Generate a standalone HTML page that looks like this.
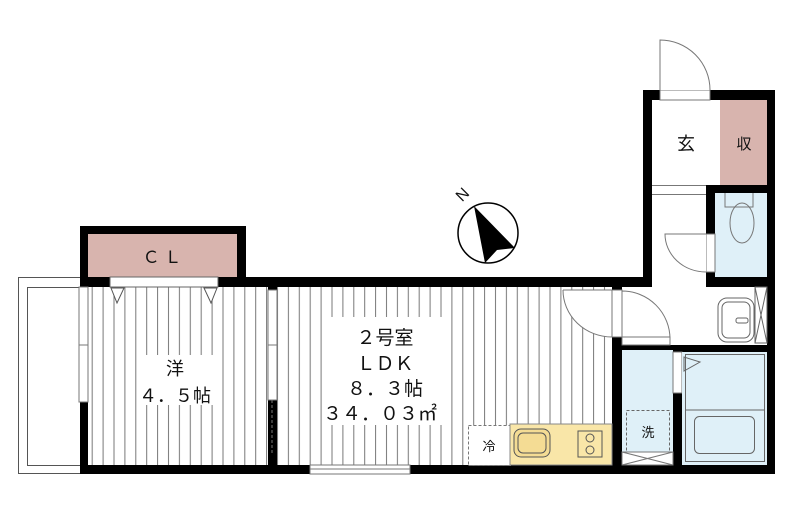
<!DOCTYPE html>
<html><head><meta charset="utf-8"><style>
html,body{margin:0;padding:0;background:#fff;}
svg{display:block;}
text{font-family:"Liberation Sans","Noto Sans CJK JP",sans-serif;fill:#111;}
</style></head><body>
<svg width="791" height="524" viewBox="0 0 791 524" xmlns="http://www.w3.org/2000/svg">
<defs>
<pattern id="st" width="10.9" height="10" patternUnits="userSpaceOnUse">
<line x1="5" y1="0" x2="5" y2="10" stroke="#777" stroke-width="1"/>
</pattern>
</defs>
<!-- balcony -->
<rect x="18.5" y="277.5" width="62" height="196" fill="#fff" stroke="#555"/>
<rect x="27.5" y="287.5" width="53" height="178" fill="#fff" stroke="#555"/>
<!-- walls base -->
<rect x="80" y="226" width="166" height="61" fill="#000"/>
<rect x="80" y="277" width="575" height="197" fill="#000"/>
<rect x="643" y="90" width="132" height="384" fill="#000"/>
<!-- CL -->
<rect x="88" y="234" width="149" height="43" fill="#d8b4ae"/>
<text x="162" y="263" font-size="17" text-anchor="middle">Ｃ Ｌ</text>
<!-- western room -->
<rect x="88" y="287" width="180" height="178" fill="#fff"/>
<rect x="88" y="287" width="180" height="178" fill="url(#st)"/>
<rect x="110" y="277" width="108" height="10" fill="#fff" stroke="#666"/>
<polygon points="111,288 124,288 117,303" fill="#fff" stroke="#555"/>
<polygon points="204,288 217,288 211,303" fill="#fff" stroke="#555"/>
<rect x="138" y="355" width="76" height="50" fill="#fff"/>
<text x="175" y="375" font-size="18" text-anchor="middle">洋</text>
<text x="175" y="402" font-size="18" text-anchor="middle">４．５帖</text>
<rect x="79" y="287" width="9" height="115" fill="#fff" stroke="#777"/>
<line x1="79" y1="345" x2="88" y2="345" stroke="#777"/>
<!-- LDK -->
<rect x="277" y="287" width="335" height="178" fill="#fff"/>
<rect x="277" y="287" width="335" height="178" fill="url(#st)"/>
<rect x="268" y="290" width="9" height="110" fill="#fff" stroke="#777"/>
<line x1="268" y1="345" x2="277" y2="345" stroke="#777"/>
<line x1="272" y1="400" x2="272" y2="455" stroke="#777" stroke-dasharray="3,2"/>
<rect x="325" y="317" width="120" height="108" fill="#fff"/>
<text x="385" y="344" font-size="19" text-anchor="middle">２号室</text>
<text x="385" y="370" font-size="19" text-anchor="middle">ＬＤＫ</text>
<text x="385" y="395" font-size="19" text-anchor="middle">８．３帖</text>
<text x="380" y="420" font-size="19" text-anchor="middle">３４．０３㎡</text>
<rect x="310" y="465" width="100" height="9" fill="#fff" stroke="#777"/>
<line x1="310" y1="469" x2="410" y2="469" stroke="#777"/>
<!-- kitchen -->
<rect x="468.5" y="425.5" width="42" height="40" fill="#fff" stroke="#777" stroke-dasharray="3,2"/>
<text x="489" y="451" font-size="13" text-anchor="middle">冷</text>
<rect x="510" y="424" width="102" height="41" fill="#f9e6a8" stroke="#888"/>
<rect x="514" y="429" width="36" height="28" rx="7" fill="#f4dc94" stroke="#555"/>
<rect x="518" y="433" width="28" height="20" rx="5" fill="none" stroke="#555"/>
<rect x="578" y="431" width="24" height="26" fill="none" stroke="#555"/>
<circle cx="590" cy="438" r="4" fill="none" stroke="#555"/>
<circle cx="590" cy="450" r="4" fill="none" stroke="#555"/>
<!-- LDK door -->
<path d="M563 290 L612 290 L612 337 A49 47 0 0 1 563 290" fill="#fff" stroke="#777"/>
<!-- tower -->
<rect x="652" y="100" width="68" height="85" fill="#fff"/>
<rect x="720" y="100" width="47" height="85" fill="#d8b4ae"/>
<text x="686" y="150" font-size="18" text-anchor="middle">玄</text>
<text x="744" y="149" font-size="15" text-anchor="middle">収</text>
<rect x="660" y="90" width="50" height="10" fill="#fff" stroke="#777"/>
<path d="M660 90 L660 40 A50 50 0 0 1 710 90" fill="#fff" stroke="#777"/>
<rect x="652" y="185" width="54" height="102" fill="#fff"/>
<line x1="652" y1="185.5" x2="706" y2="185.5" stroke="#777"/>
<line x1="652" y1="194.5" x2="706" y2="194.5" stroke="#777"/>
<rect x="715" y="193" width="52" height="84" fill="#dff0f8"/>
<path d="M725 193 V207 H753 V193" fill="none" stroke="#777"/>
<ellipse cx="742" cy="223" rx="12" ry="20" fill="none" stroke="#777"/>
<rect x="706" y="234" width="9" height="38" fill="#fff" stroke="#777"/>
<path d="M706 234 L665 234 A41 38 0 0 0 706 272" fill="#fff" stroke="#777"/>
<!-- hall / wash area -->
<rect x="622" y="287" width="145" height="58" fill="#fff"/>
<rect x="612" y="290" width="10" height="47" fill="#fff" stroke="#777"/>
<path d="M622 291 A48 48 0 0 1 670 339 L622 339 Z" fill="#fff" stroke="#777"/>
<rect x="622" y="337" width="48" height="8" fill="#fff" stroke="#777"/>
<rect x="718" y="298" width="36" height="44" rx="9" fill="#fff" stroke="#666"/>
<rect x="722" y="302" width="28" height="36" rx="6" fill="none" stroke="#666"/>
<rect x="736" y="318" width="12" height="5" rx="2" fill="none" stroke="#666"/>
<rect x="755" y="287" width="12" height="56" fill="#fff" stroke="#666"/>
<path d="M755 287 L767 343 M767 287 L755 343" stroke="#666"/>
<!-- washroom -->
<rect x="622" y="350" width="51" height="102" fill="#dff0f8"/>
<rect x="626.5" y="410.5" width="43" height="42" fill="none" stroke="#666" stroke-dasharray="3,2"/>
<text x="648" y="437" font-size="13" text-anchor="middle">洗</text>
<rect x="622" y="452" width="51" height="13" fill="#fff" stroke="#777"/>
<path d="M622 452 L673 465 M673 452 L622 465" stroke="#777"/>
<rect x="673" y="352" width="9" height="41" fill="#fff" stroke="#777"/>
<!-- bath -->
<rect x="682" y="352" width="85" height="113" fill="#dff0f8"/>
<rect x="685.5" y="354.5" width="79" height="107" fill="none" stroke="#666"/>
<line x1="685" y1="410" x2="765" y2="410" stroke="#666"/>
<rect x="694.5" y="416.5" width="60" height="37" rx="5" fill="none" stroke="#666"/>
<polygon points="684,357 684,371 700,362" fill="none" stroke="#666"/>
<!-- compass -->
<circle cx="488" cy="233" r="30" fill="#fff" stroke="#000" stroke-width="1.5"/>
<polygon points="474,206 515,248 497,250 485,263" fill="#000"/>
<text x="462" y="200" font-size="16" text-anchor="middle" transform="rotate(-45 462 194)">N</text>
</svg>
</body></html>
